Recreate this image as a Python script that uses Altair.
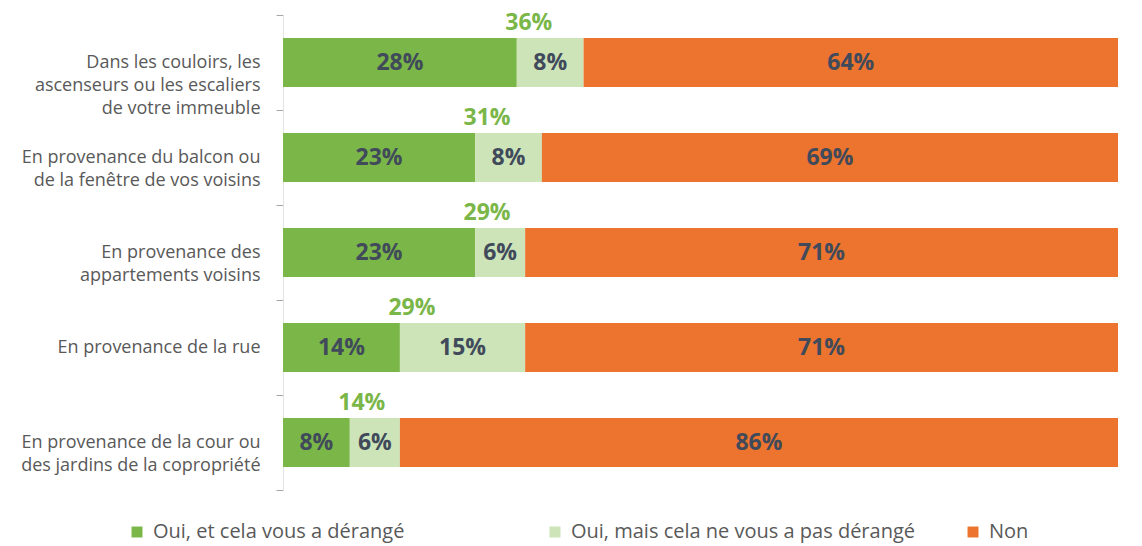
import altair as alt
import pandas as pd

categories = [
    "Dans les couloirs, les|ascenseurs ou les escaliers|de votre immeuble",
    "En provenance du balcon ou|de la fenêtre de vos voisins",
    "En provenance des|appartements voisins",
    "En provenance de la rue",
    "En provenance de la cour ou|des jardins de la copropriété",
]
series = ["Oui, et cela vous a dérangé", "Oui, mais cela ne vous a pas dérangé", "Non"]
oui_derange = [28, 23, 23, 14, 8]
oui_pas_derange = [8, 8, 6, 15, 6]
non = [64, 69, 71, 71, 86]
total_oui = [36, 31, 29, 29, 14]
colors = ["#7AB648", "#CDE4B9", "#EC742E"]

rows = []
for i, c in enumerate(categories):
    for j, (s, vals) in enumerate(zip(series, [oui_derange, oui_pas_derange, non])):
        rows.append({"cat": c, "serie": s, "value": vals[i], "order": j, "label": f"{vals[i]}%"})
df = pd.DataFrame(rows)
tot = pd.DataFrame({"cat": categories, "total": total_oui, "base": oui_derange,
                    "label": [f"{t}%" for t in total_oui]})

y_enc = alt.Y("cat:N", sort=categories, title=None,
              scale=alt.Scale(paddingInner=0, paddingOuter=0),
              axis=alt.Axis(labelExpr="split(datum.label, '|')", tickBand="extent",
                            labelFont="Open Sans", labelFontSize=18, labelColor="#595959",
                            labelLineHeight=23, labelPadding=16, labelAlign="right",
                            tickSize=7, tickColor="#A6A6A6", domainColor="#E3E3E3",
                            labelLimit=400))

bars = alt.Chart(df).mark_bar(size=49).encode(
    x=alt.X("value:Q", stack="zero", scale=alt.Scale(domain=[0, 100], nice=False), axis=None),
    y=y_enc,
    color=alt.Color("serie:N", sort=series,
                    scale=alt.Scale(domain=series, range=colors),
                    legend=alt.Legend(title=None, orient="none", legendX=-156, legendY=507,
                                      direction="horizontal", columns=3, gridAlign="all",
                                      symbolType="square",
                                      symbolSize=120, symbolStrokeWidth=0,
                                      labelFont="Open Sans", labelFontSize=20,
                                      labelColor="#595959", columnPadding=47,
                                      labelLimit=600, labelOffset=6)),
    order=alt.Order("order:Q"),
)

seg_text = alt.Chart(df).mark_text(font="Open Sans", fontSize=23, fontWeight="bold",
                                   color="#404A5A").encode(
    y=alt.Y("cat:N", sort=categories),
    text="label:N",
).transform_stack(
    stack="value", groupby=["cat"], as_=["v0", "v1"], sort=[alt.SortField("order")]
).transform_calculate(mid="(datum.v0 + datum.v1) / 2").encode(
    x=alt.X("mid:Q")
)

tot_text = alt.Chart(tot).mark_text(font="Open Sans", fontSize=23, fontWeight="bold",
                                    color="#7AB648", dy=-40, dx=12).encode(
    x=alt.X("base:Q"),
    y=alt.Y("cat:N", sort=categories),
    text="label:N",
)

chart = alt.layer(bars, seg_text, tot_text).properties(
    width=835, height=475,
    autosize=alt.AutoSizeParams(type="none"),
    padding={"left": 283, "top": 15, "right": 24, "bottom": 56},
).configure_view(stroke=None)

chart.save("out.html", embed_options={"renderer": "svg", "actions": False})
